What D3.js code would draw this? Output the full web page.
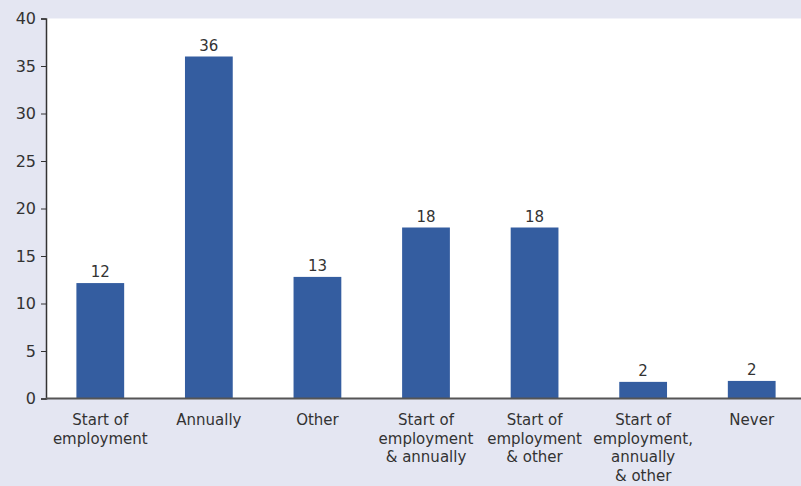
<!DOCTYPE html>
<html><head><meta charset="utf-8">
<script src="https://cdn.jsdelivr.net/npm/d3@7"></script>
<style>html,body{margin:0;padding:0;background:#e4e6f2;}svg{display:block;}</style>
</head><body>
<script>
const categories = [
  ["Start of","employment"],
  ["Annually"],
  ["Other"],
  ["Start of","employment","& annually"],
  ["Start of","employment","& other"],
  ["Start of","employment,","annually","& other"],
  ["Never"]
];
const values = [12.15, 36, 12.8, 18, 18, 1.75, 1.85];
const valueLabels = ["12","36","13","18","18","2","2"];
const yTicks = [0,5,10,15,20,25,30,35,40];

const W = 801, H = 486;
const font = "'DejaVu Sans', sans-serif";
const svg = d3.select("body").append("svg").attr("width", W).attr("height", H);
svg.append("rect").attr("width", W).attr("height", H).attr("fill", "#e4e6f2");

const x0 = 46, yTop = 18.5, yBot = 398.5;
const x = d3.scaleBand().domain(d3.range(categories.length)).range([x0, 806]).paddingInner(0.56).paddingOuter(0.28);
const y = d3.scaleLinear().domain([0, 40]).range([yBot, yTop]);

svg.append("rect").attr("x", x0).attr("y", yTop).attr("width", W - x0).attr("height", yBot - yTop).attr("fill", "#fff");

svg.selectAll("rect.bar").data(values).join("rect").attr("class","bar")
  .attr("x", (d,i) => x(i)).attr("width", x.bandwidth())
  .attr("y", d => y(d)).attr("height", d => yBot - y(d))
  .attr("fill", "#345da0");

svg.selectAll("text.val").data(values).join("text").attr("class","val")
  .attr("x", (d,i) => x(i) + x.bandwidth()/2).attr("y", d => y(d) - 6)
  .attr("text-anchor","middle").attr("font-family", font).attr("font-size", 15).attr("fill","#333")
  .text((d,i) => valueLabels[i]);

const yAxis = svg.append("g").attr("transform", `translate(${x0},0)`)
  .call(d3.axisLeft(y).tickValues(yTicks).tickSize(5).tickPadding(5));
yAxis.select(".domain").attr("stroke","#333").attr("stroke-width",1.5);
yAxis.selectAll(".tick line").attr("stroke","#333");
yAxis.selectAll("text").attr("font-family", font).attr("font-size", 16).attr("fill","#333");

svg.append("line").attr("x1", x0).attr("x2", W).attr("y1", yBot).attr("y2", yBot)
  .attr("stroke","#555").attr("stroke-width",2);

const lab = svg.selectAll("text.cat").data(categories).join("text").attr("class","cat")
  .attr("text-anchor","middle").attr("font-family", font).attr("font-size", 15).attr("fill","#333");
lab.each(function(lines, i){
  const t = d3.select(this);
  lines.forEach((l, j) => {
    t.append("tspan").attr("x", x(i) + x.bandwidth()/2).attr("y", 425 + j*18.5).text(l);
  });
});
</script>
</body></html>
